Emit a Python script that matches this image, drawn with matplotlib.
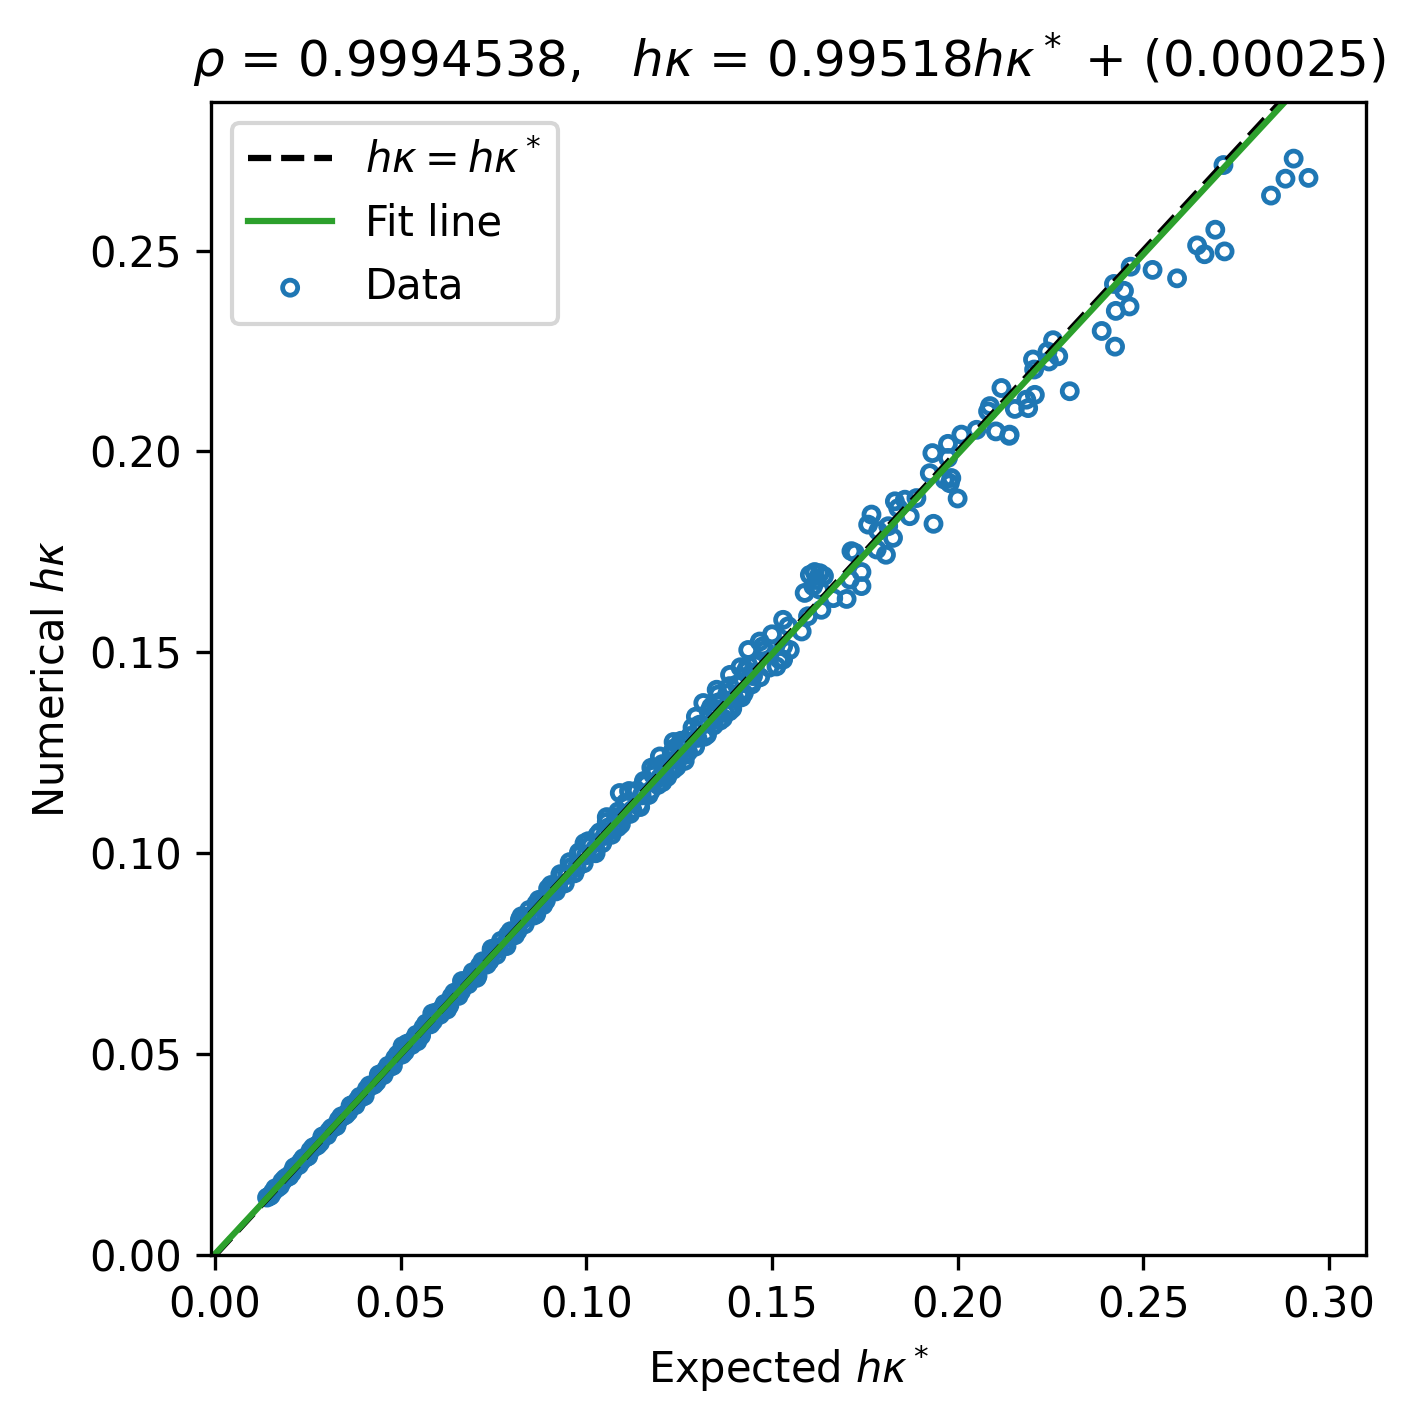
"""
numerical vs expected curvature, scatter with fit line
"""
import numpy as np
import matplotlib.pyplot as plt

# dense part near the diagonal (low hk)
x_band = [0.0140, 0.0150, 0.0162, 0.0175, 0.0188, 0.0200, 0.0213, 0.0226, 0.0238, 0.0251,
          0.0264, 0.0276, 0.0289, 0.0302, 0.0314, 0.0327, 0.0340, 0.0352, 0.0365, 0.0378,
          0.0390, 0.0403, 0.0416, 0.0428, 0.0441, 0.0454, 0.0466, 0.0479, 0.0492, 0.0504,
          0.0517, 0.0530, 0.0542, 0.0555, 0.0568, 0.0580, 0.0593, 0.0606, 0.0618, 0.0631,
          0.0644, 0.0656, 0.0669, 0.0682, 0.0694, 0.0707, 0.0720, 0.0732, 0.0745, 0.0758,
          0.0770, 0.0783, 0.0796, 0.0808, 0.0821, 0.0834, 0.0846, 0.0859, 0.0872, 0.0884,
          0.0897]
y_band = [0.0143, 0.0148, 0.0166, 0.0172, 0.0190, 0.0196, 0.0218, 0.0224, 0.0241, 0.0246,
          0.0268, 0.0273, 0.0295, 0.0298, 0.0316, 0.0321, 0.0345, 0.0349, 0.0372, 0.0373,
          0.0394, 0.0396, 0.0422, 0.0424, 0.0449, 0.0448, 0.0471, 0.0471, 0.0499, 0.0499,
          0.0526, 0.0523, 0.0548, 0.0546, 0.0576, 0.0574, 0.0603, 0.0598, 0.0625, 0.0621,
          0.0653, 0.0645, 0.0681, 0.0674, 0.0704, 0.0695, 0.0731, 0.0723, 0.0758, 0.0747,
          0.0782, 0.0770, 0.0806, 0.0796, 0.0835, 0.0823, 0.0859, 0.0845, 0.0884, 0.0871,
          0.0912]

x_band2 = [0.0146, 0.0156, 0.0168, 0.0181, 0.0194, 0.0207, 0.0219, 0.0232, 0.0245, 0.0257,
           0.0270, 0.0283, 0.0295, 0.0308, 0.0321, 0.0333, 0.0346, 0.0359, 0.0371, 0.0384,
           0.0397, 0.0409, 0.0422, 0.0435, 0.0447, 0.0460, 0.0473, 0.0485, 0.0498, 0.0511,
           0.0523, 0.0536, 0.0549, 0.0561, 0.0574, 0.0587, 0.0599, 0.0612, 0.0625, 0.0637,
           0.0650, 0.0663, 0.0675, 0.0688, 0.0701, 0.0713, 0.0726, 0.0739, 0.0751, 0.0764,
           0.0777, 0.0789, 0.0802, 0.0815, 0.0827, 0.0840, 0.0853, 0.0865, 0.0878, 0.0891]
y_band2 = [0.0146, 0.0157, 0.0167, 0.0183, 0.0194, 0.0205, 0.0221, 0.0233, 0.0243, 0.0260,
           0.0270, 0.0280, 0.0297, 0.0309, 0.0319, 0.0336, 0.0346, 0.0356, 0.0374, 0.0385,
           0.0394, 0.0413, 0.0422, 0.0431, 0.0450, 0.0461, 0.0469, 0.0490, 0.0498, 0.0506,
           0.0527, 0.0537, 0.0545, 0.0566, 0.0574, 0.0582, 0.0603, 0.0614, 0.0620, 0.0643,
           0.0650, 0.0657, 0.0680, 0.0690, 0.0695, 0.0720, 0.0726, 0.0732, 0.0757, 0.0766,
           0.0770, 0.0797, 0.0802, 0.0807, 0.0834, 0.0842, 0.0845, 0.0874, 0.0878, 0.0882]

x_band3 = [0.0505, 0.0545, 0.0585, 0.0625, 0.0665, 0.0705, 0.0745, 0.0785, 0.0825, 0.0865]
y_band3 = [0.0520, 0.0532, 0.0601, 0.0611, 0.0682, 0.0690, 0.0762, 0.0769, 0.0843, 0.0848]

# middle part, a bit more spread
x_mid = [0.0905, 0.0918, 0.0930, 0.0942, 0.0955, 0.0968, 0.0980, 0.0993, 0.1005, 0.1018,
         0.1030, 0.1043, 0.1055, 0.1068, 0.1080, 0.1093, 0.1105, 0.1118, 0.1130, 0.1143,
         0.1155, 0.1168, 0.1180, 0.1193, 0.1205, 0.1218, 0.1230, 0.1243, 0.1255, 0.1268,
         0.1280, 0.1293, 0.1305, 0.1318, 0.1330, 0.1343, 0.1355, 0.1368, 0.1380, 0.1393,
         0.1405, 0.1418, 0.1430, 0.1443, 0.1455, 0.1468, 0.1480, 0.1493,
         0.1512, 0.1467, 0.1436, 0.1387, 0.1351, 0.1315, 0.1198, 0.1234, 0.1090, 0.1265,
         0.1360, 0.1500, 0.1521, 0.1445, 0.1415]
y_mid = [0.0921, 0.0905, 0.0948, 0.0925, 0.0978, 0.0950, 0.1002, 0.0975, 0.1030, 0.1002,
         0.1045, 0.1025, 0.1078, 0.1046, 0.1090, 0.1072, 0.1125, 0.1098, 0.1152, 0.1120,
         0.1180, 0.1145, 0.1195, 0.1170, 0.1222, 0.1190, 0.1250, 0.1215, 0.1280, 0.1246,
         0.1292, 0.1265, 0.1320, 0.1290, 0.1352, 0.1318, 0.1375, 0.1336, 0.1398, 0.1360,
         0.1420, 0.1388, 0.1455, 0.1425, 0.1470, 0.1438, 0.1505, 0.1462,
         0.1465, 0.1527, 0.1506, 0.1444, 0.1407, 0.1374, 0.1241, 0.1208, 0.1150, 0.1245,
         0.1330, 0.1545, 0.1482, 0.1448, 0.1400]

x_mid2 = [0.0911, 0.0924, 0.0936, 0.0949, 0.0961, 0.0974, 0.0986, 0.0999, 0.1011, 0.1024,
          0.1036, 0.1049, 0.1061, 0.1074, 0.1086, 0.1099, 0.1111, 0.1124, 0.1136, 0.1149,
          0.1161, 0.1174, 0.1186, 0.1199, 0.1211, 0.1224, 0.1236, 0.1249, 0.1261, 0.1274,
          0.1286, 0.1299, 0.1311, 0.1324, 0.1336, 0.1349, 0.1361, 0.1374, 0.1386, 0.1399,
          0.1411, 0.1424, 0.1436, 0.1449]
y_mid2 = [0.0913, 0.0918, 0.0946, 0.0946, 0.0967, 0.0964, 0.1000, 0.0995, 0.1019, 0.1012,
          0.1052, 0.1043, 0.1065, 0.1059, 0.1104, 0.1091, 0.1121, 0.1108, 0.1156, 0.1144,
          0.1173, 0.1156, 0.1208, 0.1189, 0.1217, 0.1204, 0.1261, 0.1241, 0.1275, 0.1252,
          0.1313, 0.1287, 0.1319, 0.1300, 0.1364, 0.1343, 0.1377, 0.1349, 0.1416, 0.1385,
          0.1421, 0.1398, 0.1468, 0.1441]

x_mid3 = [0.0995, 0.1025, 0.1055, 0.1085, 0.1115, 0.1145, 0.1175, 0.1205, 0.1235, 0.1265,
          0.1295, 0.1325, 0.1355, 0.1385, 0.1415, 0.1445, 0.1475]
y_mid3 = [0.1025, 0.1000, 0.1090, 0.1065, 0.1155, 0.1115, 0.1213, 0.1177, 0.1277, 0.1230,
          0.1340, 0.1295, 0.1395, 0.1353, 0.1463, 0.1420, 0.1515]

# upper part, scattered
x_out = [0.1530, 0.1548, 0.1530, 0.1544, 0.1530, 0.1580, 0.1597, 0.1633, 0.1611, 0.1629,
         0.1588, 0.1602, 0.1629, 0.1710, 0.1665, 0.1701, 0.1741, 0.1741, 0.1714, 0.1723,
         0.1782, 0.1807, 0.1826, 0.1813, 0.1786, 0.1759, 0.1768, 0.1840, 0.1831, 0.1858,
         0.1889, 0.1871, 0.1935, 0.2000, 0.1979, 0.1983, 0.1965, 0.1925, 0.1974, 0.1932,
         0.1974, 0.2010, 0.2051, 0.2103, 0.2139, 0.2082, 0.2087, 0.2118, 0.2154, 0.2190,
         0.2185, 0.2208, 0.2302, 0.1615, 0.1640, 0.1620,
         0.2203, 0.2206, 0.2242, 0.2246, 0.2257, 0.2271, 0.2140, 0.2388, 0.2424, 0.2426,
         0.2463, 0.2421, 0.2448, 0.2466, 0.2525, 0.2591, 0.2645, 0.2665, 0.2694, 0.2719,
         0.2716, 0.2844, 0.2883, 0.2905, 0.2945]
y_out = [0.1482, 0.1506, 0.1515, 0.1565, 0.1581, 0.1552, 0.1590, 0.1606, 0.1665, 0.1656,
         0.1648, 0.1693, 0.1697, 0.1681, 0.1635, 0.1633, 0.1665, 0.1700, 0.1752, 0.1748,
         0.1756, 0.1743, 0.1785, 0.1814, 0.1802, 0.1818, 0.1843, 0.1859, 0.1876, 0.1880,
         0.1884, 0.1839, 0.1820, 0.1883, 0.1921, 0.1934, 0.1930, 0.1946, 0.1984, 0.1996,
         0.2019, 0.2042, 0.2054, 0.2050, 0.2039, 0.2100, 0.2113, 0.2158, 0.2106, 0.2108,
         0.2129, 0.2141, 0.2150, 0.1700, 0.1690, 0.1680,
         0.2229, 0.2204, 0.2249, 0.2224, 0.2277, 0.2237, 0.2042, 0.2300, 0.2261, 0.2350,
         0.2361, 0.2417, 0.2400, 0.2460, 0.2452, 0.2431, 0.2513, 0.2491, 0.2552, 0.2498,
         0.2713, 0.2637, 0.2679, 0.2729, 0.2681]

rho = 0.9994538
slope = 0.99518
intercept = 0.00025

xdata = np.array(x_band + x_band2 + x_band3 + x_mid + x_mid2 + x_mid3 + x_out)
ydata = np.array(y_band + y_band2 + y_band3 + y_mid + y_mid2 + y_mid3 + y_out)

fig = plt.figure(figsize=(1415 / 300, 1426 / 300), dpi=300)
ax = fig.add_axes([0.1491, 0.1199, 0.8163, 0.8086])

xl = np.array([0.0, 0.31])
ax.plot(xl, xl, 'k--', label=r'$h\kappa = h\kappa^*$')
ax.plot(xl, slope * xl + intercept, color='C2', label='Fit line')
ax.scatter(xdata, ydata, s=13, facecolors='none', edgecolors='C0', linewidths=1.15, label='Data')

ax.set_xlim(-0.0011, 0.31)
ax.set_ylim(0, 0.287)
ax.set_xlabel(r'Expected $h\kappa^*$')
ax.set_ylabel(r'Numerical $h\kappa$')
ax.set_title(r'$\rho$ = %.7f,   $h\kappa$ = %.5f$h\kappa^*$ + (%.5f)' % (rho, slope, intercept))
ax.legend(loc='upper left')

fig.savefig('out.png', dpi=300)
